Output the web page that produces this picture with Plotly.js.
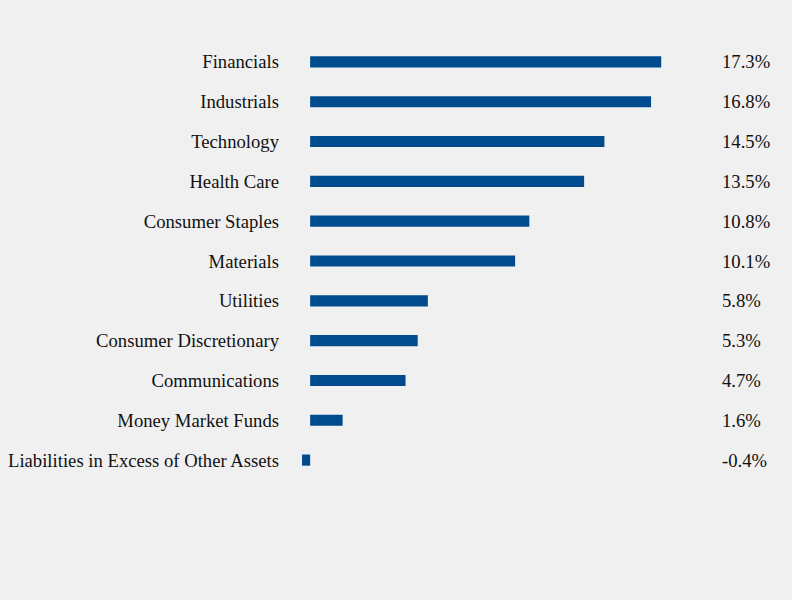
<!DOCTYPE html>
<html>
<head>
<meta charset="utf-8">
<script src="https://cdn.plot.ly/plotly-3.0.1.min.js"></script>
<style>html,body{margin:0;padding:0;background:#f0f0f0;}#chart{width:792px;height:600px;}</style>
</head>
<body>
<div id="chart"></div>
<script>
const categories = ["Financials","Industrials","Technology","Health Care","Consumer Staples","Materials","Utilities","Consumer Discretionary","Communications","Money Market Funds","Liabilities in Excess of Other Assets"];
const values = [17.3,16.8,14.5,13.5,10.8,10.1,5.8,5.3,4.7,1.6,-0.4];
const valueLabels = ["17.3%","16.8%","14.5%","13.5%","10.8%","10.1%","5.8%","5.3%","4.7%","1.6%","-0.4%"];

const trace = {
  type: 'bar',
  orientation: 'h',
  x: values,
  y: categories,
  width: 0.28,
  marker: {color: '#004b8d'},
  hoverinfo: 'none'
};
const FONT = '"Liberation Serif", "Times New Roman", serif';
const annotations = categories.map((c, i) => ({
  xref: 'paper', yref: 'y', x: 1.05, y: c, text: valueLabels[i],
  xanchor: 'left', yanchor: 'middle', showarrow: false,
  font: {family: FONT, size: 18.67, color: '#111111'}
}));
const layout = {
  width: 792, height: 600,
  paper_bgcolor: '#f0f0f0', plot_bgcolor: '#f0f0f0',
  margin: {l: 300, r: 92, t: 42, b: 120},
  showlegend: false,
  font: {family: FONT, size: 18.67, color: '#111111'},
  xaxis: {range: [-0.5, 19.21], showgrid: false, zeroline: false, showticklabels: false, showline: false, fixedrange: true},
  yaxis: {categoryorder: 'array', categoryarray: categories.slice().reverse(), showgrid: false, zeroline: false, showline: false, ticks: '', ticklabelstandoff: 20, fixedrange: true},
  annotations: annotations
};
Plotly.newPlot('chart', [trace], layout, {displayModeBar: false, staticPlot: true});
</script>
</body>
</html>
